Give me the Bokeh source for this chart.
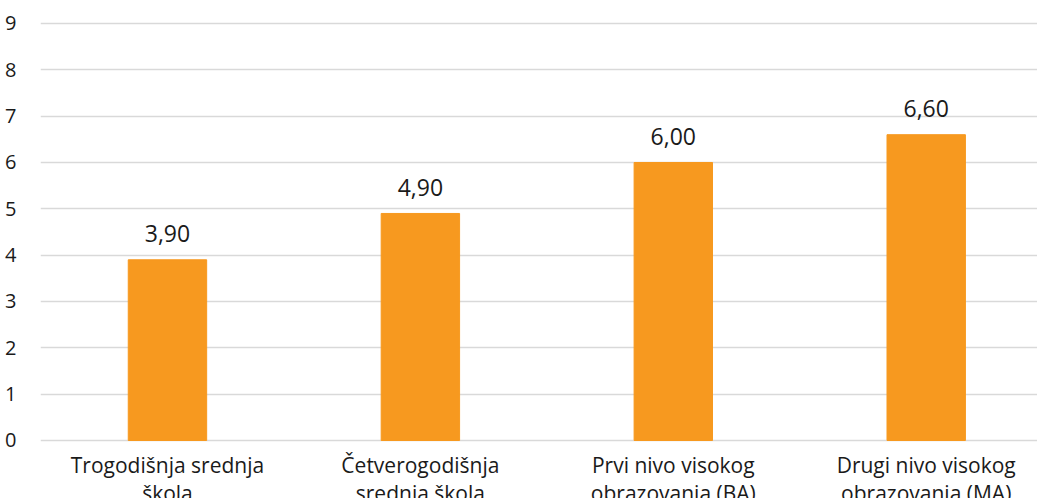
from bokeh.plotting import figure
from bokeh.models import Range1d, ColumnDataSource, FixedTicker
from bokeh.core.properties import value
from bokeh.embed import file_html
from bokeh.resources import INLINE

categories = ["Trogodišnja srednja\nškola", "Četverogodišnja\nsrednja škola",
              "Prvi nivo visokog\nobrazovanja (BA)", "Drugi nivo visokog\nobrazovanja (MA)"]
values = [3.90, 4.90, 6.00, 6.60]
labels = ["3,90", "4,90", "6,00", "6,60"]
y_ticks = [0, 1, 2, 3, 4, 5, 6, 7, 8, 9]

FONT = "Open Sans"
BAR = "#F7991F"
TXT = "#1a1a1a"

xs = list(range(len(categories)))
src = ColumnDataSource(dict(x=xs, top=values, lab=labels,
                            cat=categories, base=[0] * len(categories)))

# y range extends below 0 so the category labels sit inside the frame
p = figure(width=1037, height=498, output_backend="svg", toolbar_location=None,
           x_range=Range1d(-0.502, 3.44), y_range=Range1d(-1.252, 9.194),
           min_border_left=40, min_border_right=0, min_border_top=14, min_border_bottom=0)
p.outline_line_color = None
p.background_fill_color = "white"
p.border_fill_color = "white"

p.vbar(x="x", top="top", bottom=0, width=0.31, source=src, color=BAR)
p.text(x="x", y="top", text="lab", source=src, text_align="center", text_baseline="alphabetic",
       y_offset=-26, text_font=value(FONT), text_font_size="23px", text_color=TXT)
p.text(x="x", y="base", text="cat", source=src, text_align="center", text_baseline="top",
       y_offset=11, text_line_height=1.0, text_font=value(FONT), text_font_size="21px",
       text_color=TXT)

p.xgrid.grid_line_color = None
p.ygrid.grid_line_color = "#d9d9d9"
p.ygrid.grid_line_width = 1.5
p.xaxis.visible = False
p.yaxis.ticker = FixedTicker(ticks=y_ticks)
p.yaxis.axis_line_color = None
p.yaxis.major_tick_line_color = None
p.yaxis.minor_tick_line_color = None
p.yaxis.major_label_text_font = FONT
p.yaxis.major_label_text_color = TXT
p.yaxis.major_label_text_font_size = "20px"
p.yaxis.major_label_standoff = 18

open("out.html", "w").write(file_html(p, INLINE))
